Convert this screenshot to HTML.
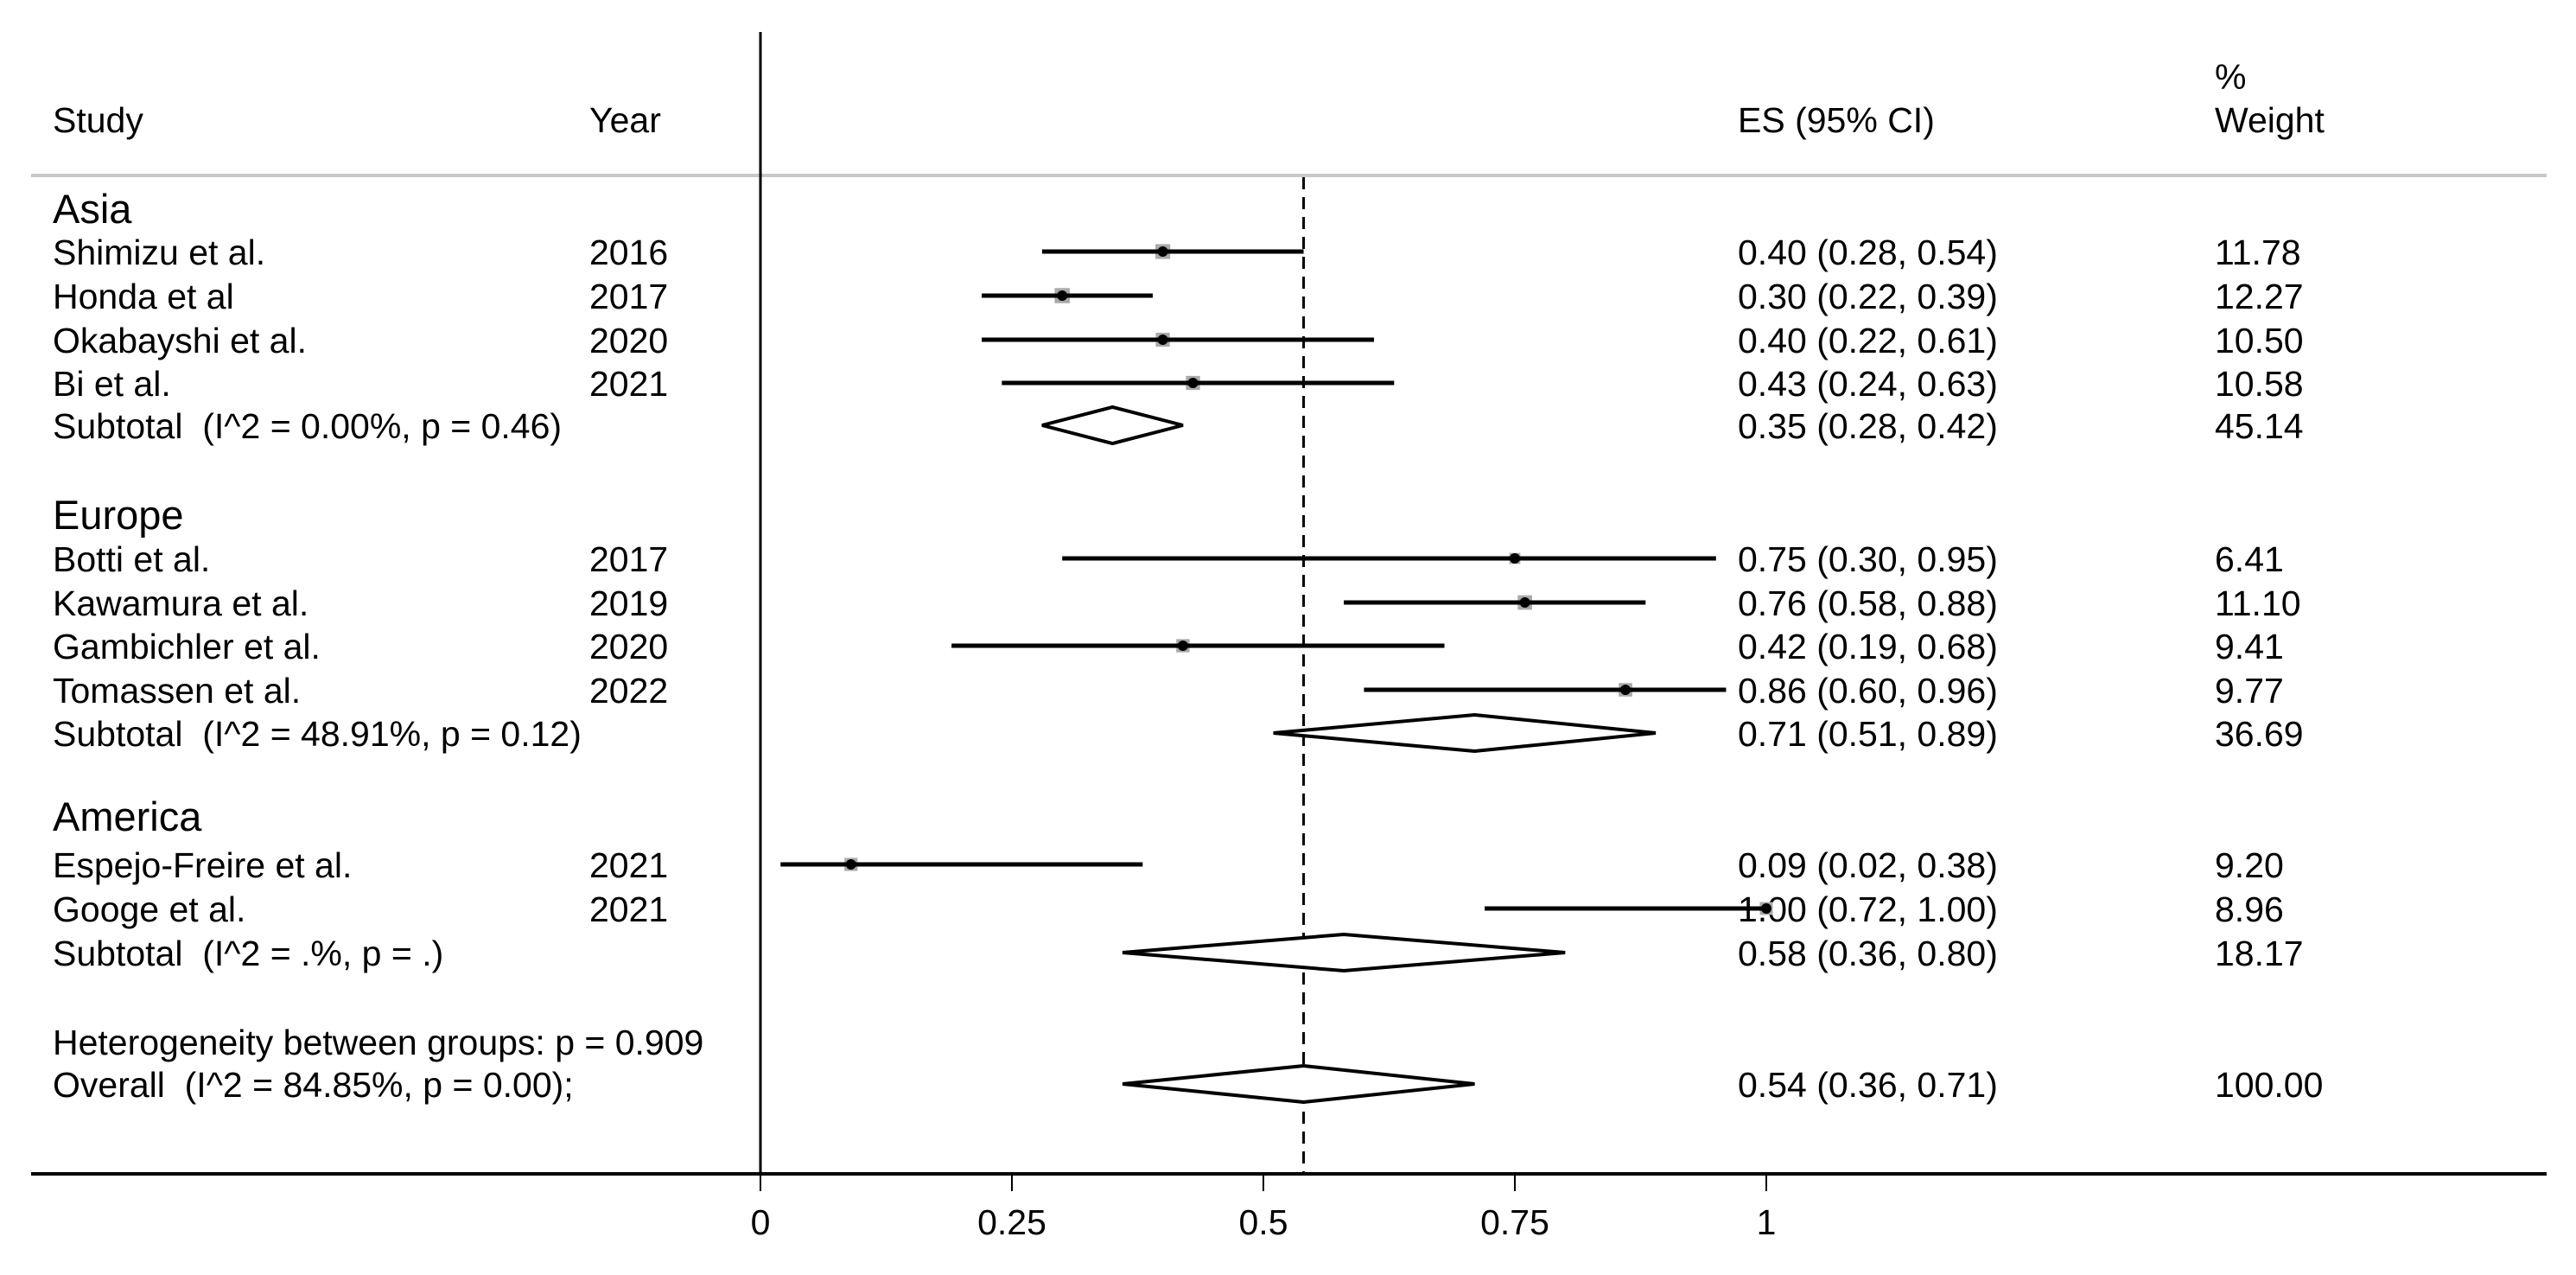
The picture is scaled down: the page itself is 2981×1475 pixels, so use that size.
<!DOCTYPE html>
<html><head><meta charset="utf-8"><style>
html,body{margin:0;padding:0;background:#fff;}
svg{display:block;font-family:"Liberation Sans",Arial,sans-serif;}
text{white-space:pre;}
</style></head><body>
<svg id="plot" width="2981" height="1475" viewBox="0 0 2981 1475" xmlns="http://www.w3.org/2000/svg">
<g id="static" font-size="41" fill="#000">
<text x="61" y="153">Study</text>
<text x="682" y="153">Year</text>
<text x="2011" y="153">ES (95% CI)</text>
<text x="2563" y="103">%</text>
<text x="2563" y="153">Weight</text>
<line x1="36" y1="203" x2="2947" y2="203" stroke="#c8c8c8" stroke-width="4"/>
<line x1="880" y1="37" x2="880" y2="1358" stroke="#000" stroke-width="3"/>
<line x1="36" y1="1358" x2="2947" y2="1358" stroke="#000" stroke-width="4"/>
</g>
<g id="marks"></g>
</svg>
<script>
const tickValues=[0,0.25,0.5,0.75,1];
const tickLabels=["0","0.25","0.5","0.75","1"];
const overallEffect=0.54;
const groupNames=["Asia","Europe","America"];
const studyNames=["Shimizu et al.","Honda et al","Okabayshi et al.","Bi et al.","Botti et al.","Kawamura et al.","Gambichler et al.","Tomassen et al.","Espejo-Freire et al.","Googe et al."];
const studyYears=["2016","2017","2020","2021","2017","2019","2020","2022","2021","2021"];
const studyES=[0.40,0.30,0.40,0.43,0.75,0.76,0.42,0.86,0.09,1.00];
const studyLo=[0.28,0.22,0.22,0.24,0.30,0.58,0.19,0.60,0.02,0.72];
const studyHi=[0.54,0.39,0.61,0.63,0.95,0.88,0.68,0.96,0.38,1.00];
const studyWeight=["11.78","12.27","10.50","10.58","6.41","11.10","9.41","9.77","9.20","8.96"];
const pooledLabels=["Subtotal  (I^2 = 0.00%, p = 0.46)","Subtotal  (I^2 = 48.91%, p = 0.12)","Subtotal  (I^2 = .%, p = .)","Overall  (I^2 = 84.85%, p = 0.00);"];
const pooledES=[0.35,0.71,0.58,0.54];
const pooledLo=[0.28,0.51,0.36,0.36];
const pooledHi=[0.42,0.89,0.80,0.71];
const pooledWeight=["45.14","36.69","18.17","100.00"];
const NS="http://www.w3.org/2000/svg";
const g=document.getElementById('marks');
const xs=v=>880+v*1164;
const layout=[241,291,342,393,443,492,595,646,697,747,798,848,944,1000,1051,1102,1205,1254];
function el(tag,attrs,text){const e=document.createElementNS(NS,tag);for(const k in attrs)e.setAttribute(k,attrs[k]);if(text!==undefined)e.textContent=text;g.appendChild(e);return e;}
function fmt(v){return v.toFixed(2);}
const pooledLayout=[5,11,15,17];
const studyLayout=[1,2,3,4,7,8,9,10,13,14];
const groupLayout=[0,6,12];
let d=el('line',{x1:xs(overallEffect),y1:205,x2:xs(overallEffect),y2:1358,stroke:'#000','stroke-width':3,'stroke-dasharray':'14,9'});


tickValues.forEach((v,i)=>{
 const t=el('line',{x1:xs(v),y1:1358,x2:xs(v),y2:1378,stroke:'#000','stroke-width':2});
 
 
 const l=el('text',{x:xs(v),y:1428,'font-size':41,'text-anchor':'middle'},tickLabels[i]);
 
 
});
groupNames.forEach((n,i)=>{
 const t=el('text',{x:61,y:layout[groupLayout[i]]+17,'font-size':47},n);
 
 
});
studyNames.forEach((n,i)=>{
 const y=layout[studyLayout[i]];
 const a=el('text',{x:61,y:y+15,'font-size':41},n);
 
 
 const b=el('text',{x:682,y:y+15,'font-size':41},studyYears[i]);
 
 
 const c=el('text',{x:2011,y:y+15,'font-size':41},fmt(studyES[i])+' ('+fmt(studyLo[i])+', '+fmt(studyHi[i])+')');
 
 
 const w=el('text',{x:2563,y:y+15,'font-size':41},studyWeight[i]);
 
 
 const s=5*Math.sqrt(parseFloat(studyWeight[i]));
 const sq=el('rect',{x:xs(studyES[i])-s/2,y:y-s/2,width:s,height:s,fill:'#aaa'});
 
 
 const ci=el('line',{x1:xs(studyLo[i]),y1:y,x2:xs(studyHi[i]),y2:y,stroke:'#000','stroke-width':5});
 
 
 const pt=el('circle',{cx:xs(studyES[i]),cy:y,r:6,fill:'#000'});
 
 
});
pooledLabels.forEach((n,i)=>{
 const y=layout[pooledLayout[i]];
 const a=el('text',{x:61,y:y+15,'font-size':41},n);
 
 
 const c=el('text',{x:2011,y:y+15,'font-size':41},fmt(pooledES[i])+' ('+fmt(pooledLo[i])+', '+fmt(pooledHi[i])+')');
 
 
 const w=el('text',{x:2563,y:y+15,'font-size':41},pooledWeight[i]);
 
 
 const h=21;
 const p=el('polygon',{points:`${xs(pooledLo[i])},${y} ${xs(pooledES[i])},${y-h} ${xs(pooledHi[i])},${y} ${xs(pooledES[i])},${y+h}`,fill:'#fff',stroke:'#000','stroke-width':4});
 
 
});
const het=el('text',{x:61,y:layout[16]+15,'font-size':41},'Heterogeneity between groups: p = 0.909');


</script>
</body></html>
